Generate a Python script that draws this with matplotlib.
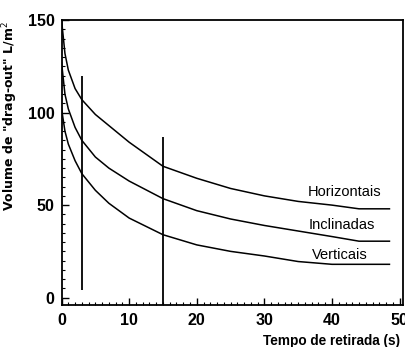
import numpy as np
import matplotlib.pyplot as plt
from matplotlib.ticker import MultipleLocator

plt.rcParams['font.family'] = ['Liberation Sans', 'DejaVu Sans']

# tempo de retirada (s)
t = [0, 0.5, 1, 2, 3, 5, 7, 10, 15, 20, 25, 30, 35, 40, 44, 48.5]
horizontais = [150, 132, 123, 113, 107, 99, 93, 84, 71, 64.5, 59, 55, 52, 50, 48, 48]
inclinadas = [127, 110, 102, 92, 85, 76, 70, 63, 53.5, 47, 42.5, 39, 36, 33, 30.5, 30.5]
verticais = [102, 90, 83, 74, 67, 58, 51, 43, 34, 28.5, 25, 22.5, 19.5, 18, 18, 18]

# linhas verticais (x, y_inicio, y_fim)
marcas_x = [3, 15]
marcas_ymin = [4, -4]
marcas_ymax = [120, 87]

rotulos = ['Horizontais', 'Inclinadas', 'Verticais']
rot_x = [36.4, 36.6, 37.0]
rot_y = [57, 39, 23]

fig = plt.figure(figsize=(4.05, 3.47), dpi=100)
ax = fig.add_axes([0.152, 0.121, 0.843, 0.821])

for serie in (horizontais, inclinadas, verticais):
    ax.plot(t, serie, color='black', lw=1.1)

ax.vlines(marcas_x, marcas_ymin, marcas_ymax, color='black', lw=1.3)

for txt, x, y in zip(rotulos, rot_x, rot_y):
    ax.text(x, y, txt, fontsize=10.5, va='center', ha='left')

ax.set_xlim(0, 50.5)
ax.set_ylim(-4, 150)

ax.set_xticks([0, 10, 20, 30, 40, 50])
ax.xaxis.set_minor_locator(MultipleLocator(1))
ax.set_yticks([0, 50, 100, 150])
ax.yaxis.set_minor_locator(MultipleLocator(5))
ax.tick_params(which='both', direction='in', top=False, right=False)
ax.tick_params(which='major', length=5, width=1, labelsize=11.5)
ax.tick_params(axis='x', which='major', pad=6)
ax.tick_params(axis='y', which='major', pad=5)
ax.tick_params(which='minor', length=2.5, width=0.8)
for lbl in ax.get_xticklabels() + ax.get_yticklabels():
    lbl.set_fontweight('bold')

for s in ax.spines.values():
    s.set_linewidth(1.3)

ax.set_ylabel('Volume de "drag-out" L/m$^2$', fontsize=9, fontweight='bold',
              family='DejaVu Sans')
ax.yaxis.set_label_coords(-0.122, 0.663)
ax.set_xlabel('Tempo de retirada (s)', fontsize=9.8, fontweight='bold')
ax.xaxis.set_label_coords(0.99, -0.1)
ax.xaxis.label.set_ha('right')

fig.savefig('out.png', dpi=100)
